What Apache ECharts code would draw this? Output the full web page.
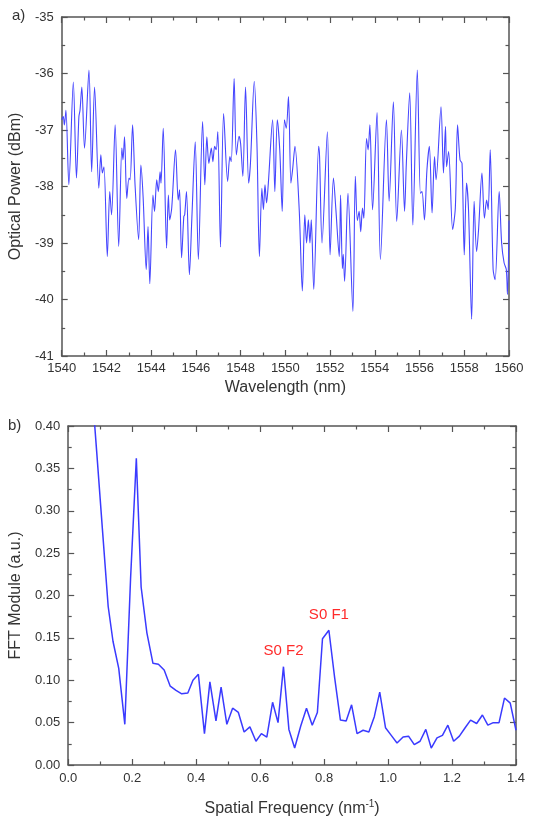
<!DOCTYPE html>
<html>
<head>
<meta charset="utf-8">
<script src="https://cdn.jsdelivr.net/npm/echarts@6/dist/echarts.min.js"></script>
<style>
  html, body { margin: 0; padding: 0; background: #fff; }
  #chart { width: 533px; height: 819px; }
</style>
</head>
<body>
<div id="chart"></div>
<script>
// a) optical spectrum (extrema of the trace)
const wavelength = [
  1540.00, 1540.07, 1540.12, 1540.19, 1540.32, 1540.52, 1540.66, 1540.77, 1540.82, 1540.90,
  1541.02, 1541.22, 1541.34, 1541.47, 1541.66, 1541.75, 1541.82, 1541.89, 1542.04, 1542.15,
  1542.23, 1542.39, 1542.55, 1542.69, 1542.74, 1542.81, 1542.91, 1543.01, 1543.06, 1543.17,
  1543.28, 1543.44, 1543.54, 1543.64, 1543.78, 1543.86, 1543.94, 1544.08, 1544.15, 1544.25,
  1544.32, 1544.40, 1544.44, 1544.54, 1544.69, 1544.77, 1544.83, 1544.92, 1545.09, 1545.21,
  1545.27, 1545.36, 1545.46, 1545.50, 1545.58, 1545.71, 1545.82, 1545.97, 1546.11, 1546.30,
  1546.40, 1546.49, 1546.58, 1546.69, 1546.76, 1546.84, 1546.91, 1546.98, 1547.10, 1547.24,
  1547.42, 1547.52, 1547.58, 1547.71, 1547.81, 1547.93, 1548.00, 1548.10, 1548.22, 1548.36,
  1548.44, 1548.61, 1548.73, 1548.84, 1548.95, 1549.02, 1549.09, 1549.16, 1549.24, 1549.43,
  1549.53, 1549.64, 1549.75, 1549.86, 1549.96, 1550.04, 1550.14, 1550.25, 1550.33, 1550.43,
  1550.62, 1550.76, 1550.87, 1550.95, 1551.03, 1551.10, 1551.16, 1551.27, 1551.49, 1551.53,
  1551.64, 1551.88, 1552.00, 1552.15, 1552.26, 1552.41, 1552.47, 1552.55, 1552.59, 1552.65,
  1552.80, 1553.02, 1553.13, 1553.22, 1553.30, 1553.37, 1553.45, 1553.51, 1553.63, 1553.70,
  1553.78, 1553.90, 1554.10, 1554.25, 1554.52, 1554.64, 1554.83, 1554.98, 1555.19, 1555.33,
  1555.41, 1555.56, 1555.70, 1555.90, 1556.04, 1556.11, 1556.22, 1556.33, 1556.44, 1556.56,
  1556.67, 1556.74, 1556.96, 1557.07, 1557.16, 1557.21, 1557.30, 1557.48, 1557.60, 1557.70,
  1557.81, 1557.90, 1558.00, 1558.10, 1558.19, 1558.33, 1558.44, 1558.55, 1558.64, 1558.79,
  1558.90, 1559.00, 1559.07, 1559.16, 1559.29, 1559.38, 1559.56, 1559.67, 1559.78, 1559.88,
  1559.93, 1560.00
];
const power = [
  -36.82, -36.76, -36.91, -36.65, -37.97, -36.15, -37.85, -36.76, -36.65, -36.24,
  -37.32, -35.94, -37.74, -36.24, -38.03, -37.44, -37.76, -37.65, -39.24, -38.09,
  -38.50, -36.91, -39.06, -37.32, -37.53, -37.12, -38.21, -37.85, -37.88, -36.91,
  -37.97, -38.94, -37.62, -38.18, -39.47, -38.71, -39.72, -38.15, -38.44, -37.88,
  -38.09, -37.74, -37.94, -36.97, -39.09, -38.15, -38.59, -38.38, -37.35, -38.24,
  -38.06, -39.26, -38.53, -38.50, -38.09, -39.56, -38.56, -37.21, -39.29, -36.85,
  -37.97, -37.12, -37.59, -37.32, -37.56, -37.29, -37.35, -37.03, -39.07, -36.71,
  -37.91, -37.47, -37.56, -36.09, -37.44, -37.11, -37.24, -37.82, -36.24, -37.94,
  -37.59, -36.14, -37.24, -39.24, -38.03, -38.41, -37.97, -38.29, -37.94, -36.82,
  -38.09, -36.82, -37.35, -38.44, -36.82, -36.97, -36.41, -37.94, -37.68, -37.29,
  -38.41, -39.85, -38.50, -39.00, -38.59, -39.00, -38.59, -39.82, -37.29, -37.47,
  -39.00, -37.03, -39.21, -37.85, -38.41, -39.24, -38.15, -39.45, -39.20, -39.68,
  -38.12, -40.21, -37.82, -38.60, -38.44, -38.80, -38.38, -38.56, -37.15, -37.35,
  -36.91, -38.41, -36.69, -39.29, -36.82, -38.26, -36.50, -38.62, -37.00, -38.44,
  -37.59, -36.34, -38.68, -35.94, -38.12, -38.09, -38.59, -37.71, -37.29, -38.47,
  -37.47, -37.88, -36.59, -37.76, -36.94, -37.65, -37.38, -38.76, -38.38, -36.91,
  -37.53, -37.59, -39.21, -37.94, -38.41, -40.35, -38.26, -39.15, -38.76, -37.76,
  -38.56, -38.24, -38.41, -37.35, -39.47, -39.65, -38.09, -39.00, -39.35, -39.47,
  -39.91, -38.60
];

// b) FFT of the spectrum
const freq = [
  0.071, 0.089, 0.107, 0.125, 0.140, 0.158, 0.177, 0.195, 0.213, 0.228,
  0.246, 0.265, 0.282, 0.300, 0.319, 0.337, 0.355, 0.374, 0.390, 0.407,
  0.426, 0.443, 0.462, 0.478, 0.496, 0.514, 0.532, 0.550, 0.568, 0.587,
  0.604, 0.621, 0.639, 0.656, 0.673, 0.690, 0.708, 0.727, 0.745, 0.763,
  0.779, 0.795, 0.815, 0.833, 0.851, 0.869, 0.886, 0.903, 0.922, 0.940,
  0.957, 0.974, 0.992, 1.010, 1.028, 1.047, 1.064, 1.082, 1.100, 1.118,
  1.135, 1.153, 1.170, 1.187, 1.205, 1.223, 1.241, 1.258, 1.277, 1.295,
  1.312, 1.329, 1.347, 1.364, 1.382, 1.400
];
const fftModule = [
  0.460, 0.370, 0.278, 0.187, 0.146, 0.114, 0.048, 0.220, 0.362, 0.210,
  0.156, 0.120, 0.119, 0.112, 0.093, 0.088, 0.084, 0.085, 0.100, 0.107,
  0.037, 0.098, 0.052, 0.092, 0.048, 0.067, 0.062, 0.039, 0.045, 0.028,
  0.037, 0.033, 0.074, 0.050, 0.116, 0.042, 0.020, 0.046, 0.067, 0.047,
  0.062, 0.149, 0.159, 0.103, 0.053, 0.052, 0.071, 0.037, 0.041, 0.039,
  0.057, 0.086, 0.044, 0.035, 0.026, 0.033, 0.034, 0.024, 0.028, 0.042,
  0.020, 0.032, 0.035, 0.047, 0.028, 0.034, 0.044, 0.053, 0.049, 0.059,
  0.047, 0.050, 0.050, 0.079, 0.073, 0.041
];
// peak labels: [frequency, module, text]
const peaks = [
  [0.815, 0.159, 'S0 F1'],
  [0.673, 0.116, 'S0 F2']
];

const FONT = "'Liberation Sans', Arial, sans-serif";
const AXIS_COLOR = '#555';

function axisBase(extra){
  let base = {
    type: 'value',
    splitLine: { show: false },
    axisLine: { show: true, onZero: false, lineStyle: { color: AXIS_COLOR, width: 1.5 } },
    axisTick: { show: true, inside: true, length: 6, lineStyle: { color: AXIS_COLOR, width: 1.2 } },
    minorTick: { show: true, splitNumber: 2, length: 3.5, lineStyle: { color: AXIS_COLOR, width: 1.2 } },
    axisLabel: { color: '#333', fontSize: 13, fontFamily: FONT },
    nameTextStyle: { color: '#333', fontSize: 16, fontFamily: FONT }
  };
  return Object.assign(base, extra);
}
function mirror(extra){
  return axisBase(Object.assign({ axisLabel: { show: false } }, extra));
}

let chart = echarts.init(document.getElementById('chart'), null, { renderer: 'canvas' });

let option = {
  animation: false,
  backgroundColor: '#fff',
  textStyle: { fontFamily: FONT },
  grid: [
    { left: 61, right: 24, top: 17, height: 339 },
    { left: 66, right: 17, top: 426, height: 339 }
  ],
  xAxis: [
    axisBase({ gridIndex: 0, position: 'bottom', min: 1540, max: 1560, interval: 2,
      axisLabel: { color: '#333', fontSize: 13, fontFamily: FONT, margin: 6,
        formatter: v => String(v) },
      name: 'Wavelength (nm)', nameLocation: 'middle', nameGap: 24 }),
    mirror({ gridIndex: 0, position: 'top', min: 1540, max: 1560, interval: 2 }),
    axisBase({ gridIndex: 1, position: 'bottom', min: 0, max: 1.4, interval: 0.2,
      axisLabel: { color: '#333', fontSize: 13, fontFamily: FONT, margin: 7,
        formatter: v => v.toFixed(1) },
      name: 'Spatial Frequency (nm{sup|-1})', nameLocation: 'middle', nameGap: 34,
      nameTextStyle: { color: '#333', fontSize: 16, fontFamily: FONT,
        rich: { sup: { fontSize: 10, fontFamily: FONT, color: '#333', padding: [0, 0, 9, 0] } } } }),
    mirror({ gridIndex: 1, position: 'top', min: 0, max: 1.4, interval: 0.2 })
  ],
  yAxis: [
    axisBase({ gridIndex: 0, position: 'left', min: -41, max: -35, interval: 1,
      axisLabel: { color: '#333', fontSize: 13, fontFamily: FONT, margin: 8 },
      name: 'Optical Power (dBm)', nameLocation: 'middle', nameGap: 36 }),
    mirror({ gridIndex: 0, position: 'right', min: -41, max: -35, interval: 1 }),
    axisBase({ gridIndex: 1, position: 'left', min: 0, max: 0.4, interval: 0.05,
      axisLabel: { color: '#333', fontSize: 13, fontFamily: FONT, margin: 8,
        formatter: v => v.toFixed(2) },
      name: 'FFT Module (a.u.)', nameLocation: 'middle', nameGap: 41 }),
    mirror({ gridIndex: 1, position: 'right', min: 0, max: 0.4, interval: 0.05 })
  ],
  series: [
    {
      type: 'line',
      xAxisIndex: 0,
      yAxisIndex: 0,
      data: wavelength.map((w, i) => [w, power[i]]),
      showSymbol: false,
      smooth: 0.3,
      lineStyle: { color: '#4646ff', width: 1.1 },
      clip: true
    },
    {
      type: 'line',
      xAxisIndex: 2,
      yAxisIndex: 2,
      data: freq.map((f, i) => [f, fftModule[i]]),
      showSymbol: false,
      lineStyle: { color: '#3a3aff', width: 1.5 },
      clip: true,
      markPoint: {
        symbol: 'circle',
        symbolSize: 0,
        label: {
          show: true, position: 'top', distance: 8, color: '#ff2a2a', fontSize: 15, fontFamily: FONT,
          formatter: p => p.name
        },
        data: peaks.map(p => ({ coord: [p[0], p[1]], name: p[2] }))
      }
    }
  ],
  graphic: [
    { type: 'text', left: 12, top: 8, style: { text: 'a)', fill: '#333', fontSize: 15, fontFamily: FONT } },
    { type: 'text', left: 8, top: 418, style: { text: 'b)', fill: '#333', fontSize: 15, fontFamily: FONT } }
  ]
};
chart.setOption(option);
</script>
</body>
</html>
